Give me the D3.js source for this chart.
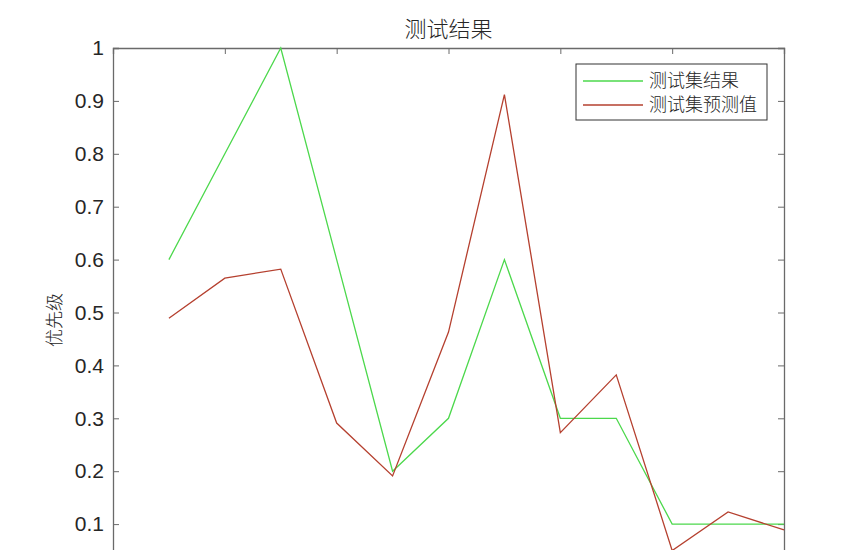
<!DOCTYPE html>
<html>
<head>
<meta charset="utf-8">
<script src="https://cdn.jsdelivr.net/npm/d3@7"></script>
<style>
  html, body { margin: 0; padding: 0; background: #fff; overflow: hidden; }
  svg { display: block; }
</style>
</head>
<body>
<svg id="chart"></svg>
<script>
const titleText = '测试结果';
const yLabel = '优先级';
const seriesNames = ['测试集结果', '测试集预测值'];
const sampleIndex = [1, 2, 3, 4, 5, 6, 7, 8, 9, 10, 11, 12];
const actual = [0.6, 0.8, 1.0, 0.6, 0.2, 0.3, 0.6, 0.3, 0.3, 0.1, 0.1, 0.1];
const predicted = [0.489, 0.565, 0.582, 0.291, 0.191, 0.463, 0.912, 0.273, 0.382, 0.05, 0.123, 0.089];
// the 0 tick sits below the visible area in the reference, so only its tick mark is kept
const yTicks = [0, 0.1, 0.2, 0.3, 0.4, 0.5, 0.6, 0.7, 0.8, 0.9, 1];
const xTicks = [0, 2, 4, 6, 8, 10, 12];

const width = 865;
const height = 550;
const margin = {top: 48, right: 81, left: 113};
const plotBottom = 577;
const axisColor = '#6a6a6a';
const textColor = '#262626';
const colors = ['#4cd84c', '#b5402f'];

const svg = d3.select('#chart').attr('width', width).attr('height', height);

const x = d3.scaleLinear().domain([0, 12]).range([margin.left, width - margin.right]);
const y = d3.scaleLinear().domain([0, 1]).range([plotBottom, margin.top]);

// title
svg.append('text')
  .attr('x', (x(0) + x(12)) / 2)
  .attr('y', 37)
  .attr('text-anchor', 'middle')
  .attr('font-family', '"Noto Sans CJK SC", sans-serif')
  .attr('font-size', 22)
  .attr('font-weight', 300)
  .attr('fill', textColor)
  .text(titleText);

// y label
svg.append('text')
  .attr('transform', `translate(61,320) rotate(-90)`)
  .attr('text-anchor', 'middle')
  .attr('font-family', '"Noto Sans CJK SC", sans-serif')
  .attr('font-weight', 300)
  .attr('font-size', 18)
  .attr('fill', textColor)
  .text(yLabel);

// left axis with labels, ticks inward
svg.append('g')
  .attr('transform', `translate(${margin.left},0)`)
  .call(d3.axisLeft(y).tickValues(yTicks).tickFormat(d => d === 0 ? '' : d).tickSize(-6).tickPadding(9))
  .call(g => g.selectAll('path.domain').attr('stroke', axisColor).attr('stroke-width', 1.3))
  .call(g => g.selectAll('.tick line').attr('stroke', axisColor))
  .call(g => g.selectAll('.tick text')
    .attr('font-family', '"Liberation Sans", Arial, sans-serif')
    .attr('font-size', 21)
    .attr('fill', textColor));

// right axis, ticks only
svg.append('g')
  .attr('transform', `translate(${width - margin.right},0)`)
  .call(d3.axisRight(y).tickValues(yTicks).tickFormat('').tickSize(-6))
  .call(g => g.selectAll('path.domain').attr('stroke', axisColor).attr('stroke-width', 1.3))
  .call(g => g.selectAll('.tick line').attr('stroke', axisColor));

// top axis, ticks only
svg.append('g')
  .attr('transform', `translate(0,${margin.top})`)
  .call(d3.axisTop(x).tickValues(xTicks).tickFormat('').tickSize(-6))
  .call(g => g.selectAll('path.domain').attr('stroke', axisColor).attr('stroke-width', 1.3))
  .call(g => g.selectAll('.tick line').attr('stroke', axisColor));

// bottom axis, below the visible area like in the reference
svg.append('g')
  .attr('transform', `translate(0,${plotBottom})`)
  .call(d3.axisBottom(x).tickValues(xTicks).tickFormat('').tickSize(-6))
  .call(g => g.selectAll('path.domain').attr('stroke', axisColor).attr('stroke-width', 1.3))
  .call(g => g.selectAll('.tick line').attr('stroke', axisColor));

const line = d3.line()
  .x((d, i) => x(sampleIndex[i]))
  .y(d => y(d));

svg.append('g')
  .attr('fill', 'none')
  .attr('stroke-width', 1.3)
  .attr('stroke-linejoin', 'miter')
  .selectAll('path')
  .data([actual, predicted])
  .join('path')
  .attr('stroke', (d, i) => colors[i])
  .attr('d', line);

// legend
const legend = svg.append('g').attr('transform', 'translate(576,64)');
legend.append('rect')
  .attr('width', 191)
  .attr('height', 56)
  .attr('fill', '#fff')
  .attr('stroke', '#333')
  .attr('stroke-width', 1);
seriesNames.forEach((name, i) => {
  const yy = 17 + i * 24;
  legend.append('line')
    .attr('x1', 7).attr('x2', 67)
    .attr('y1', yy).attr('y2', yy)
    .attr('stroke', colors[i])
    .attr('stroke-width', 1.3);
  legend.append('text')
    .attr('x', 73)
    .attr('y', yy + 6)
    .attr('font-family', '"Noto Sans CJK SC", sans-serif')
    .attr('font-weight', 300)
    .attr('font-size', 18)
    .attr('fill', textColor)
    .text(name);
});
</script>
</body>
</html>
